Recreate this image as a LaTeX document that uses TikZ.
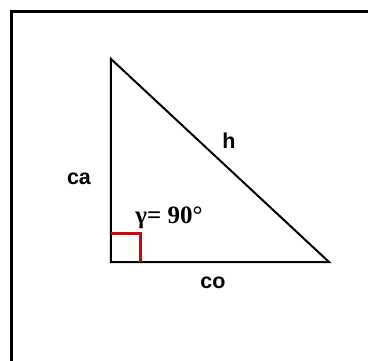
\documentclass[tikz,border=0pt]{standalone}
\usepackage{fontspec}
\setmainfont{Liberation Sans}
\newfontfamily\anglefont{Liberation Serif}
\usetikzlibrary{positioning,calc}

\begin{document}
\begin{tikzpicture}[x=1pt, y=1pt, every node/.style={font=\fontsize{21.5}{25}\selectfont\bfseries}]
        \clip (0,0) rectangle (368,360);
        \fill[white] (0,0) rectangle (368,360);
        \draw[line width=3pt] (11,-20) -- (11,349) -- (390,349);
        \coordinate (A) at (111,301);
        \coordinate (C) at (111,98);
        \coordinate (B) at (329,98);
        \draw[line width=2pt] (A) -- (C) -- (B) -- cycle;
        \draw[red!85!black, line width=3pt] ($(C)+(0,29)$) -- ++(30,0) -- ++(0,-29);
        \node (ca) at (79,181) {ca};
        \node (h) at (229,219) {h};
        \node (co) at (213,77) {co};
        \node[font=\fontsize{25}{29}\selectfont\anglefont\bfseries] (gam) at (169,142) {γ= 90°};
    \end{tikzpicture}
\end{document}
